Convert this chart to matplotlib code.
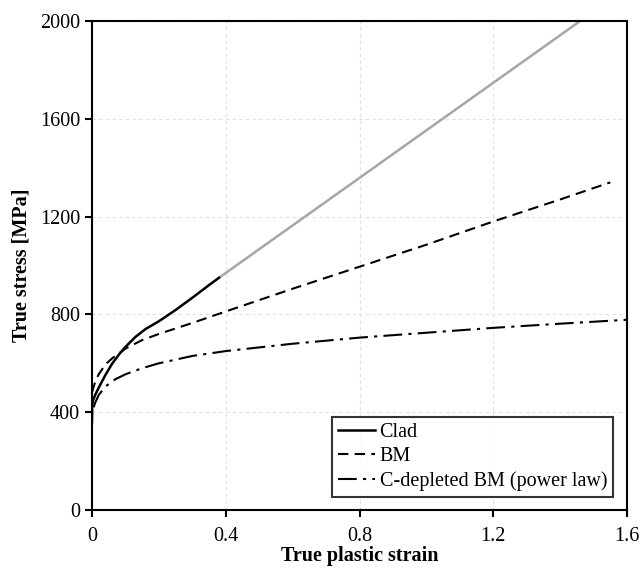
import matplotlib.pyplot as plt

plt.rcParams["font.family"] = ["Liberation Serif", "DejaVu Serif"]

# Clad (measured part)
clad_x = [0, 0.0005, 0.002, 0.005, 0.01, 0.02, 0.04, 0.06, 0.08, 0.1, 0.13, 0.16, 0.2, 0.25, 0.3, 0.35, 0.38]
clad_y = [360, 420, 442, 455, 472, 500, 552, 598, 635, 667, 708, 740, 772, 818, 868, 920, 950]

# Clad linear extrapolation
ext_x = [0.38, 1.46]
ext_y = [950, 2000]

# BM
bm_x = [0, 0.005, 0.01, 0.02, 0.04, 0.06, 0.1, 0.15, 0.2, 0.3, 0.4, 0.6, 0.8, 1.0, 1.2, 1.4, 1.55]
bm_y = [480, 505, 525, 555, 595, 620, 660, 695, 720, 765, 812, 905, 995, 1085, 1180, 1270, 1340]

# C-depleted BM (power law)
cd_x = [0.005, 0.01, 0.02, 0.04, 0.07, 0.1, 0.15, 0.2, 0.3, 0.4, 0.6, 0.8, 1.0, 1.2, 1.4, 1.6]
cd_y = [420, 440, 470, 505, 535, 555, 580, 600, 630, 650, 680, 705, 725, 745, 762, 778]

xticks = [0, 0.4, 0.8, 1.2, 1.6]
yticks = [0, 400, 800, 1200, 1600, 2000]

fig = plt.figure(figsize=(6.42, 5.68), dpi=100)
ax = fig.add_axes([92 / 642, 58 / 568, 535 / 642, 489 / 568])

ax.plot(ext_x, ext_y, color="#a6a6a6", lw=1.8)
ax.plot(clad_x, clad_y, color="black", lw=1.8, label="Clad")
ax.plot(bm_x, bm_y, color="black", lw=1.5, ls=(0, (5, 3)), label="BM")
ax.plot(cd_x, cd_y, color="black", lw=1.5, ls=(0, (9, 3, 1.5, 3)),
        label="C-depleted BM (power law)")

ax.set_xlim(0, 1.6)
ax.set_ylim(0, 2000)
ax.set_xticks(xticks)
ax.set_xticklabels(["0", "0.4", "0.8", "1.2", "1.6"])
ax.set_yticks(yticks)
ax.grid(True, color="#e0e0e0", ls=(0, (3, 3)), lw=0.8)
ax.set_axisbelow(True)

for s in ax.spines.values():
    s.set_linewidth(1.5)
ax.tick_params(direction="out", length=5, width=1.5, labelsize=14.5)
ax.tick_params(axis="x", pad=7)

ax.set_xlabel("True plastic strain", fontsize=14.5, fontweight="bold", labelpad=0)
ax.set_ylabel("True stress [MPa]", fontsize=14.5, fontweight="bold", labelpad=6)

leg = ax.legend(loc="lower right", fontsize=14.5, frameon=True, fancybox=False,
                edgecolor="black", handlelength=1.8, handletextpad=0.25,
                borderpad=0.3, labelspacing=0.25, borderaxespad=0,
                bbox_to_anchor=(0.974, 0.027))
leg.get_frame().set_linewidth(1.5)

fig.savefig("out.png", dpi=100)
